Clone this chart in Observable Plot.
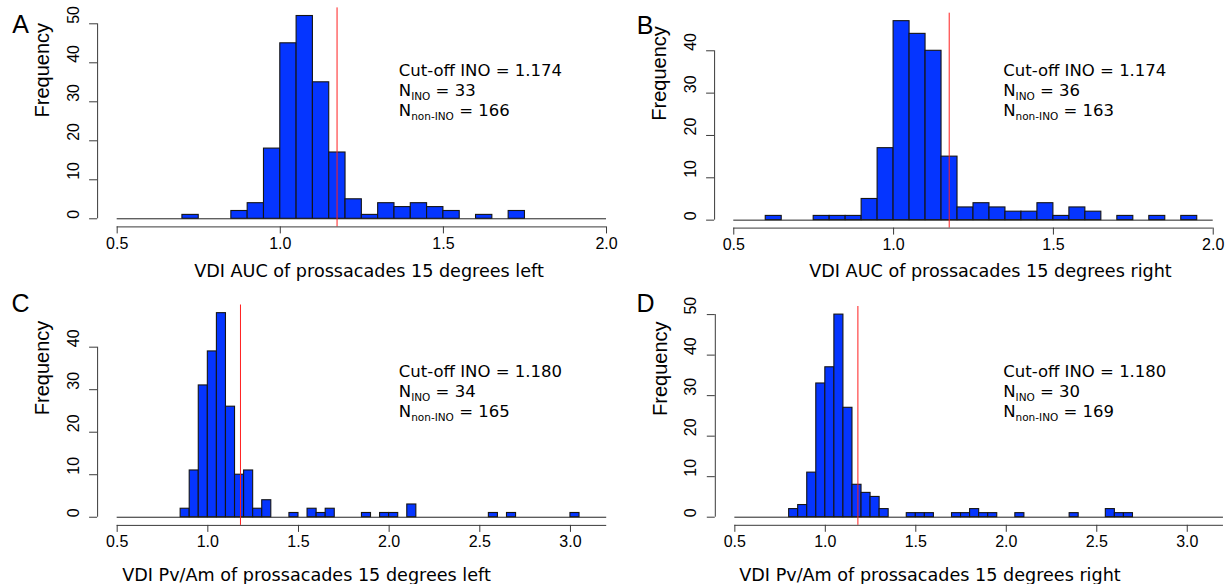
<!DOCTYPE html>
<html>
<head>
<meta charset="utf-8">
<script src="https://cdn.jsdelivr.net/npm/d3@7"></script>
<script src="https://cdn.jsdelivr.net/npm/@observablehq/plot@0.6"></script>
<style>
  html, body { margin: 0; padding: 0; background: #fff; }
  #fig { position: relative; width: 1231px; height: 584px; overflow: hidden; background: #fff; }
  .panel { position: absolute; }
  .panel svg { max-width: none !important; background: transparent; overflow: visible; }
</style>
</head>
<body>
<div id="fig"></div>
<script>
// ---------------- data ----------------
const binWidth = 0.05;

// Panel A: VDI AUC, 15 degrees left
const aStarts = [0.70, 0.85, 0.90, 0.95, 1.00, 1.05, 1.10, 1.15, 1.20, 1.25, 1.30, 1.35, 1.40, 1.45, 1.50, 1.60, 1.70];
const aCounts = [1, 2, 4, 18, 45, 52, 35, 17, 5, 1, 4, 3, 4, 3, 2, 1, 2];

// Panel B: VDI AUC, 15 degrees right
const bStarts = [0.60, 0.75, 0.80, 0.85, 0.90, 0.95, 1.00, 1.05, 1.10, 1.15, 1.20, 1.25, 1.30, 1.35, 1.40, 1.45, 1.50, 1.55, 1.60, 1.70, 1.80, 1.90];
const bCounts = [1, 1, 1, 1, 5, 17, 47, 44, 40, 15, 3, 4, 3, 2, 2, 4, 1, 3, 2, 1, 1, 1];

// Panel C: VDI Pv/Am, 15 degrees left
const cStarts = [0.85, 0.90, 0.95, 1.00, 1.05, 1.10, 1.15, 1.20, 1.25, 1.30, 1.45, 1.55, 1.60, 1.65, 1.85, 1.95, 2.00, 2.10, 2.55, 2.65, 3.00];
const cCounts = [2, 11, 31, 39, 48, 26, 10, 11, 2, 4, 1, 2, 1, 2, 1, 1, 1, 3, 1, 1, 1];

// Panel D: VDI Pv/Am, 15 degrees right
const dStarts = [0.80, 0.85, 0.90, 0.95, 1.00, 1.05, 1.10, 1.15, 1.20, 1.25, 1.30, 1.45, 1.50, 1.55, 1.70, 1.75, 1.80, 1.85, 1.90, 2.05, 2.35, 2.55, 2.60, 2.65];
const dCounts = [2, 3, 11, 33, 37, 50, 27, 8, 6, 5, 2, 1, 1, 1, 1, 1, 2, 1, 1, 1, 1, 2, 1, 1];

const panelLetters = ["A", "B", "C", "D"];
const xTitles = [
  "VDI AUC of prossacades 15 degrees left",
  "VDI AUC of prossacades 15 degrees right",
  "VDI Pv/Am of prossacades 15 degrees left",
  "VDI Pv/Am of prossacades 15 degrees right"
];
const cutoffs = [1.174, 1.174, 1.180, 1.180];
const nINO = [33, 36, 34, 30];
const nNonINO = [166, 163, 165, 169];

const xTicksAB = [0.5, 1.0, 1.5, 2.0];
const xTicksCD = [0.5, 1.0, 1.5, 2.0, 2.5, 3.0];
const yTicksA = [0, 10, 20, 30, 40, 50];
const yTicksB = [0, 10, 20, 30, 40];
const yTicksC = [0, 10, 20, 30, 40];
const yTicksD = [0, 10, 20, 30, 40, 50];

// ---------------- layout ----------------
const SVG_W = 660, SVG_H = 292;
const panels = [
  {starts: aStarts, counts: aCounts, xlim: [0.5, 2.0], xTicks: xTicksAB, yTicks: yTicksA,
   left: 0, top: 0, mL: 97.1, mR: 34.4, mT: 7.4, mB: 65.6,
   letterAt: [20, 24.5], titleAt: [368.5, 271], noteAt: [398.3, 70.7]},
  {starts: bStarts, counts: bCounts, xlim: [0.5, 2.0], xTicks: xTicksAB, yTicks: yTicksB,
   left: 616, top: 0, mL: 98.1, mR: 44.1, mT: 12.7, mB: 64.4,
   letterAt: [644.7, 25], titleAt: [990, 271], noteAt: [1002.7, 70.7]},
  {starts: cStarts, counts: cCounts, xlim: [0.5, 3.2], xTicks: xTicksCD, yTicks: yTicksC,
   left: 0, top: 292, mL: 97.1, mR: 34.2, mT: 12.5, mB: 59.1,
   letterAt: [20, 303.3], titleAt: [306, 575], noteAt: [398.3, 371.7]},
  {starts: dStarts, counts: dCounts, xlim: [0.5, 3.2], xTicks: xTicksCD, yTicks: yTicksD,
   left: 616, top: 292, mL: 98.8, mR: 33.5, mT: 14, mB: 59.2,
   letterAt: [645, 303.3], titleAt: [929.5, 575], noteAt: [1002.7, 371.7]}
];

const BAR = "#0535ff";
const RED = "#ff1f1f";
const AX = "#3a3a3a";
const ARIAL = "Liberation Sans, Arial, sans-serif";
const VERDANA = "DejaVu Sans, Verdana, sans-serif";

const fig = document.getElementById("fig");

panels.forEach((p, i) => {
  const bins = p.starts.map((s, k) => ({x1: s, x2: s + binWidth, count: p.counts[k]}));
  const ymax = d3.max(p.counts);
  const yDomain = [-0.04 * ymax, 1.04 * ymax];
  const xr = p.xlim[1] - p.xlim[0];
  const xDomain = [p.xlim[0] - 0.04 * xr, p.xlim[1] + 0.04 * xr];
  const frameLeft = p.left + p.mL;
  const frameTop = p.top + p.mT;
  const frameBottom = p.top + SVG_H - p.mB;

  const noteDx = p.noteAt[0] - frameLeft;
  const noteDy = p.noteAt[1] - frameTop;
  const noteStyle = {frameAnchor: "top-left", textAnchor: "start", lineAnchor: "middle",
                     fontFamily: VERDANA, fontSize: 16.5, fill: "#000"};

  const chart = Plot.plot({
    width: SVG_W,
    height: SVG_H,
    marginLeft: p.mL,
    marginRight: p.mR,
    marginTop: p.mT,
    marginBottom: p.mB,
    style: {background: "transparent", overflow: "visible"},
    x: {domain: xDomain, label: null},
    y: {domain: yDomain, label: null},
    marks: [
      Plot.rectY(bins, {x1: "x1", x2: "x2", y1: 0, y2: "count", fill: BAR, stroke: "#151515", strokeWidth: 1.1}),
      Plot.ruleY([0], {x1: p.xlim[0], x2: p.xlim[1], stroke: "#222", strokeWidth: 1}),
      Plot.ruleX([cutoffs[i]], {stroke: RED, strokeWidth: 1}),
      // x axis
      Plot.ruleY([yDomain[0]], {x1: p.xlim[0], x2: p.xlim[1], stroke: AX, strokeWidth: 1}),
      Plot.axisX({ticks: p.xTicks, tickSize: 7, tickFormat: () => "", label: null, stroke: AX}),
      Plot.text(p.xTicks, {x: d => d, text: d => d.toFixed(1), frameAnchor: "bottom", dy: 16.5,
                           lineAnchor: "middle", fontFamily: ARIAL, fontSize: 16, fill: "#000"}),
      // y axis
      Plot.ruleX([xDomain[0]], {y1: 0, y2: d3.max(p.yTicks), stroke: AX, strokeWidth: 1}),
      Plot.axisY({ticks: p.yTicks, tickSize: 8, tickFormat: () => "", label: null, stroke: AX}),
      Plot.text(p.yTicks, {y: d => d, text: d => String(d), frameAnchor: "left", dx: -24, rotate: -90,
                           fontFamily: ARIAL, fontSize: 16, fill: "#000"}),
      Plot.text(["Frequency"], {frameAnchor: "left", dx: -55, rotate: -90,
                                fontFamily: ARIAL, fontSize: 20, fill: "#000"}),
      // x title
      Plot.text([xTitles[i]], {frameAnchor: "bottom-left", dx: p.titleAt[0] - frameLeft, dy: p.titleAt[1] - frameBottom,
                               textAnchor: "middle", lineAnchor: "middle", fontFamily: VERDANA, fontSize: 17.6, fill: "#000"}),
      // panel letter
      Plot.text([panelLetters[i]], {frameAnchor: "top-left", dx: p.letterAt[0] - frameLeft, dy: p.letterAt[1] - frameTop,
                                    textAnchor: "middle", lineAnchor: "middle", fontFamily: ARIAL, fontSize: 25, fill: "#000"}),
      // annotation
      Plot.text([`Cut-off INO = ${cutoffs[i].toFixed(3)}`], {...noteStyle, dx: noteDx, dy: noteDy}),
      Plot.text([`N_INO = ${nINO[i]}`], {...noteStyle, dx: noteDx, dy: noteDy + 19.8}),
      Plot.text([`N_non-INO = ${nNonINO[i]}`], {...noteStyle, dx: noteDx, dy: noteDy + 39.6})
    ]
  });

  // subscripts: "N_sub = value"
  d3.select(chart).selectAll("text").each(function () {
    const t = this.textContent;
    const m = /^N_(\S+)( = .*)$/.exec(t);
    if (!m) return;
    const el = d3.select(this);
    el.text(null);
    el.append("tspan").text("N");
    el.append("tspan").attr("dy", 4).attr("font-size", 10.5).text(m[1]);
    el.append("tspan").attr("dy", -4).text(m[2]);
  });

  const holder = document.createElement("div");
  holder.className = "panel";
  holder.style.left = p.left + "px";
  holder.style.top = p.top + "px";
  holder.appendChild(chart);
  fig.appendChild(holder);
});
</script>
</body>
</html>
